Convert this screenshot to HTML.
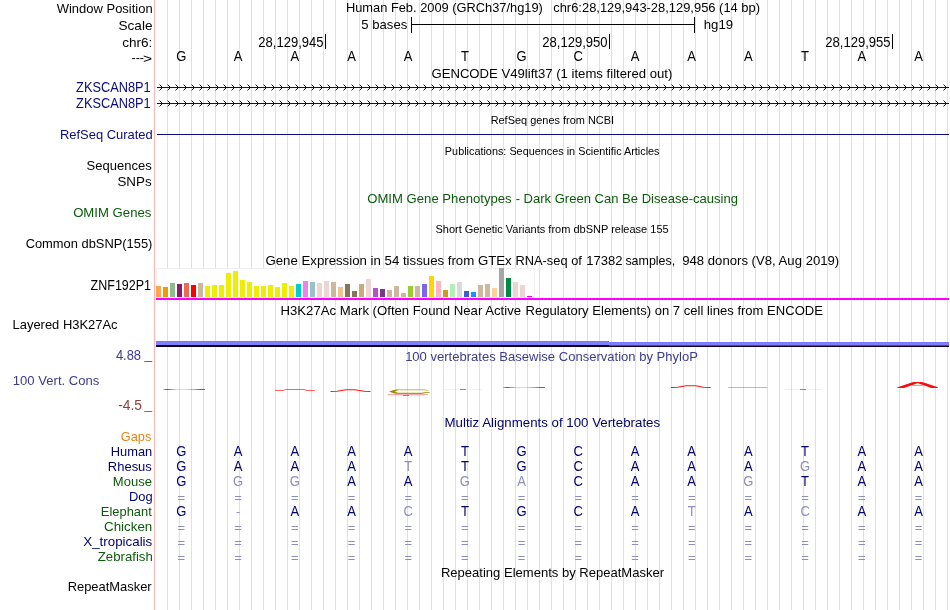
<!DOCTYPE html>
<html><head><meta charset="utf-8"><title>UCSC Genome Browser chr6:28,129,943-28,129,956</title>
<style>
html,body{margin:0;padding:0;background:#fff;}
body{width:950px;height:610px;overflow:hidden;}
svg{display:block;will-change:transform;}
text{font-family:'Liberation Sans', Arial, Helvetica, sans-serif;font-size:13.5px;fill:#000;white-space:pre;}
.s{font-size:11.5px;}
.c{font-size:14px;}
.nv{fill:#0c0c78;}
.gr{fill:#0a5a0a;}
.cb{fill:#3c3c8c;}
.cr{fill:#8c3c3c;}
.mz{fill:#00006e;}
.lt{fill:#8e8eba;}
.or{fill:#e08514;}
</style></head><body>
<svg width="950" height="610" viewBox="0 0 950 610">
<rect x="0" y="0" width="950" height="610" fill="#fff"/>
<g shape-rendering="crispEdges" fill="#dcdcff">
<rect x="167" y="0" width="1" height="610"/>
<rect x="179" y="0" width="1" height="610"/>
<rect x="191" y="0" width="1" height="610"/>
<rect x="203" y="0" width="1" height="610"/>
<rect x="215" y="0" width="1" height="610"/>
<rect x="227" y="0" width="1" height="610"/>
<rect x="239" y="0" width="1" height="610"/>
<rect x="251" y="0" width="1" height="610"/>
<rect x="263" y="0" width="1" height="610"/>
<rect x="275" y="0" width="1" height="610"/>
<rect x="287" y="0" width="1" height="610"/>
<rect x="299" y="0" width="1" height="610"/>
<rect x="311" y="0" width="1" height="610"/>
<rect x="323" y="0" width="1" height="610"/>
<rect x="335" y="0" width="1" height="610"/>
<rect x="347" y="0" width="1" height="610"/>
<rect x="359" y="0" width="1" height="610"/>
<rect x="371" y="0" width="1" height="610"/>
<rect x="383" y="0" width="1" height="610"/>
<rect x="395" y="0" width="1" height="610"/>
<rect x="407" y="0" width="1" height="610"/>
<rect x="419" y="0" width="1" height="610"/>
<rect x="431" y="0" width="1" height="610"/>
<rect x="443" y="0" width="1" height="610"/>
<rect x="455" y="0" width="1" height="610"/>
<rect x="467" y="0" width="1" height="610"/>
<rect x="479" y="0" width="1" height="610"/>
<rect x="491" y="0" width="1" height="610"/>
<rect x="503" y="0" width="1" height="610"/>
<rect x="515" y="0" width="1" height="610"/>
<rect x="527" y="0" width="1" height="610"/>
<rect x="539" y="0" width="1" height="610"/>
<rect x="551" y="0" width="1" height="610"/>
<rect x="563" y="0" width="1" height="610"/>
<rect x="575" y="0" width="1" height="610"/>
<rect x="587" y="0" width="1" height="610"/>
<rect x="599" y="0" width="1" height="610"/>
<rect x="611" y="0" width="1" height="610"/>
<rect x="623" y="0" width="1" height="610"/>
<rect x="635" y="0" width="1" height="610"/>
<rect x="647" y="0" width="1" height="610"/>
<rect x="659" y="0" width="1" height="610"/>
<rect x="671" y="0" width="1" height="610"/>
<rect x="683" y="0" width="1" height="610"/>
<rect x="695" y="0" width="1" height="610"/>
<rect x="707" y="0" width="1" height="610"/>
<rect x="719" y="0" width="1" height="610"/>
<rect x="731" y="0" width="1" height="610"/>
<rect x="743" y="0" width="1" height="610"/>
<rect x="755" y="0" width="1" height="610"/>
<rect x="767" y="0" width="1" height="610"/>
<rect x="779" y="0" width="1" height="610"/>
<rect x="791" y="0" width="1" height="610"/>
<rect x="803" y="0" width="1" height="610"/>
<rect x="815" y="0" width="1" height="610"/>
<rect x="827" y="0" width="1" height="610"/>
<rect x="839" y="0" width="1" height="610"/>
<rect x="851" y="0" width="1" height="610"/>
<rect x="863" y="0" width="1" height="610"/>
<rect x="875" y="0" width="1" height="610"/>
<rect x="887" y="0" width="1" height="610"/>
<rect x="899" y="0" width="1" height="610"/>
<rect x="911" y="0" width="1" height="610"/>
<rect x="923" y="0" width="1" height="610"/>
<rect x="935" y="0" width="1" height="610"/>
<rect x="947" y="0" width="1" height="610"/>
</g>
<rect x="154" y="0" width="1" height="610" fill="#ffb4b4" shape-rendering="crispEdges"/>
<g shape-rendering="crispEdges" fill="#000">
<rect x="411" y="17" width="1" height="16"/><rect x="694" y="17" width="1" height="16"/><rect x="411" y="24" width="284" height="1"/>
<rect x="325" y="34" width="1" height="15"/>
<rect x="609" y="34" width="1" height="15"/>
<rect x="892" y="34" width="1" height="15"/>
</g>
<g shape-rendering="crispEdges" fill="#0c0c78">
<rect x="157" y="87" width="792" height="1"/>
<rect x="157" y="103" width="792" height="1"/>
<rect x="157" y="134" width="792" height="1"/>
</g>
<g shape-rendering="crispEdges" fill="#0c0c78">
<path d="M161 86h1v3h-1zm-1-1h1v1h-1zm0 4h1v1h-1zm9-3h1v3h-1zm-1-1h1v1h-1zm0 4h1v1h-1zm9-3h1v3h-1zm-1-1h1v1h-1zm0 4h1v1h-1zm9-3h1v3h-1zm-1-1h1v1h-1zm0 4h1v1h-1zm9-3h1v3h-1zm-1-1h1v1h-1zm0 4h1v1h-1zm9-3h1v3h-1zm-1-1h1v1h-1zm0 4h1v1h-1zm9-3h1v3h-1zm-1-1h1v1h-1zm0 4h1v1h-1zm9-3h1v3h-1zm-1-1h1v1h-1zm0 4h1v1h-1zm9-3h1v3h-1zm-1-1h1v1h-1zm0 4h1v1h-1zm9-3h1v3h-1zm-1-1h1v1h-1zm0 4h1v1h-1zm9-3h1v3h-1zm-1-1h1v1h-1zm0 4h1v1h-1zm9-3h1v3h-1zm-1-1h1v1h-1zm0 4h1v1h-1zm9-3h1v3h-1zm-1-1h1v1h-1zm0 4h1v1h-1zm9-3h1v3h-1zm-1-1h1v1h-1zm0 4h1v1h-1zm9-3h1v3h-1zm-1-1h1v1h-1zm0 4h1v1h-1zm9-3h1v3h-1zm-1-1h1v1h-1zm0 4h1v1h-1zm9-3h1v3h-1zm-1-1h1v1h-1zm0 4h1v1h-1zm9-3h1v3h-1zm-1-1h1v1h-1zm0 4h1v1h-1zm9-3h1v3h-1zm-1-1h1v1h-1zm0 4h1v1h-1zm9-3h1v3h-1zm-1-1h1v1h-1zm0 4h1v1h-1zm9-3h1v3h-1zm-1-1h1v1h-1zm0 4h1v1h-1zm9-3h1v3h-1zm-1-1h1v1h-1zm0 4h1v1h-1zm9-3h1v3h-1zm-1-1h1v1h-1zm0 4h1v1h-1zm9-3h1v3h-1zm-1-1h1v1h-1zm0 4h1v1h-1zm9-3h1v3h-1zm-1-1h1v1h-1zm0 4h1v1h-1zm9-3h1v3h-1zm-1-1h1v1h-1zm0 4h1v1h-1zm9-3h1v3h-1zm-1-1h1v1h-1zm0 4h1v1h-1zm9-3h1v3h-1zm-1-1h1v1h-1zm0 4h1v1h-1zm9-3h1v3h-1zm-1-1h1v1h-1zm0 4h1v1h-1zm9-3h1v3h-1zm-1-1h1v1h-1zm0 4h1v1h-1zm9-3h1v3h-1zm-1-1h1v1h-1zm0 4h1v1h-1zm9-3h1v3h-1zm-1-1h1v1h-1zm0 4h1v1h-1zm9-3h1v3h-1zm-1-1h1v1h-1zm0 4h1v1h-1zm9-3h1v3h-1zm-1-1h1v1h-1zm0 4h1v1h-1zm9-3h1v3h-1zm-1-1h1v1h-1zm0 4h1v1h-1zm9-3h1v3h-1zm-1-1h1v1h-1zm0 4h1v1h-1zm9-3h1v3h-1zm-1-1h1v1h-1zm0 4h1v1h-1zm9-3h1v3h-1zm-1-1h1v1h-1zm0 4h1v1h-1zm9-3h1v3h-1zm-1-1h1v1h-1zm0 4h1v1h-1zm9-3h1v3h-1zm-1-1h1v1h-1zm0 4h1v1h-1zm9-3h1v3h-1zm-1-1h1v1h-1zm0 4h1v1h-1zm9-3h1v3h-1zm-1-1h1v1h-1zm0 4h1v1h-1zm9-3h1v3h-1zm-1-1h1v1h-1zm0 4h1v1h-1zm9-3h1v3h-1zm-1-1h1v1h-1zm0 4h1v1h-1zm9-3h1v3h-1zm-1-1h1v1h-1zm0 4h1v1h-1zm9-3h1v3h-1zm-1-1h1v1h-1zm0 4h1v1h-1zm9-3h1v3h-1zm-1-1h1v1h-1zm0 4h1v1h-1zm9-3h1v3h-1zm-1-1h1v1h-1zm0 4h1v1h-1zm9-3h1v3h-1zm-1-1h1v1h-1zm0 4h1v1h-1zm9-3h1v3h-1zm-1-1h1v1h-1zm0 4h1v1h-1zm9-3h1v3h-1zm-1-1h1v1h-1zm0 4h1v1h-1zm9-3h1v3h-1zm-1-1h1v1h-1zm0 4h1v1h-1zm9-3h1v3h-1zm-1-1h1v1h-1zm0 4h1v1h-1zm9-3h1v3h-1zm-1-1h1v1h-1zm0 4h1v1h-1zm9-3h1v3h-1zm-1-1h1v1h-1zm0 4h1v1h-1zm9-3h1v3h-1zm-1-1h1v1h-1zm0 4h1v1h-1zm9-3h1v3h-1zm-1-1h1v1h-1zm0 4h1v1h-1zm9-3h1v3h-1zm-1-1h1v1h-1zm0 4h1v1h-1zm9-3h1v3h-1zm-1-1h1v1h-1zm0 4h1v1h-1zm9-3h1v3h-1zm-1-1h1v1h-1zm0 4h1v1h-1zm9-3h1v3h-1zm-1-1h1v1h-1zm0 4h1v1h-1zm9-3h1v3h-1zm-1-1h1v1h-1zm0 4h1v1h-1zm9-3h1v3h-1zm-1-1h1v1h-1zm0 4h1v1h-1zm9-3h1v3h-1zm-1-1h1v1h-1zm0 4h1v1h-1zm9-3h1v3h-1zm-1-1h1v1h-1zm0 4h1v1h-1zm9-3h1v3h-1zm-1-1h1v1h-1zm0 4h1v1h-1zm9-3h1v3h-1zm-1-1h1v1h-1zm0 4h1v1h-1zm9-3h1v3h-1zm-1-1h1v1h-1zm0 4h1v1h-1zm9-3h1v3h-1zm-1-1h1v1h-1zm0 4h1v1h-1zm9-3h1v3h-1zm-1-1h1v1h-1zm0 4h1v1h-1zm9-3h1v3h-1zm-1-1h1v1h-1zm0 4h1v1h-1zm9-3h1v3h-1zm-1-1h1v1h-1zm0 4h1v1h-1zm9-3h1v3h-1zm-1-1h1v1h-1zm0 4h1v1h-1zm9-3h1v3h-1zm-1-1h1v1h-1zm0 4h1v1h-1zm9-3h1v3h-1zm-1-1h1v1h-1zm0 4h1v1h-1zm9-3h1v3h-1zm-1-1h1v1h-1zm0 4h1v1h-1zm9-3h1v3h-1zm-1-1h1v1h-1zm0 4h1v1h-1zm9-3h1v3h-1zm-1-1h1v1h-1zm0 4h1v1h-1zm9-3h1v3h-1zm-1-1h1v1h-1zm0 4h1v1h-1zm9-3h1v3h-1zm-1-1h1v1h-1zm0 4h1v1h-1zm9-3h1v3h-1zm-1-1h1v1h-1zm0 4h1v1h-1zm9-3h1v3h-1zm-1-1h1v1h-1zm0 4h1v1h-1zm9-3h1v3h-1zm-1-1h1v1h-1zm0 4h1v1h-1zm9-3h1v3h-1zm-1-1h1v1h-1zm0 4h1v1h-1zm9-3h1v3h-1zm-1-1h1v1h-1zm0 4h1v1h-1zm9-3h1v3h-1zm-1-1h1v1h-1zm0 4h1v1h-1zm9-3h1v3h-1zm-1-1h1v1h-1zm0 4h1v1h-1zm9-3h1v3h-1zm-1-1h1v1h-1zm0 4h1v1h-1zm9-3h1v3h-1zm-1-1h1v1h-1zm0 4h1v1h-1zm9-3h1v3h-1zm-1-1h1v1h-1zm0 4h1v1h-1zm9-3h1v3h-1zm-1-1h1v1h-1zm0 4h1v1h-1zm9-3h1v3h-1zm-1-1h1v1h-1zm0 4h1v1h-1zm9-3h1v3h-1zm-1-1h1v1h-1zm0 4h1v1h-1zm9-3h1v3h-1zm-1-1h1v1h-1zm0 4h1v1h-1zm9-3h1v3h-1zm-1-1h1v1h-1zm0 4h1v1h-1zm9-3h1v3h-1zm-1-1h1v1h-1zm0 4h1v1h-1zm9-3h1v3h-1zm-1-1h1v1h-1zm0 4h1v1h-1zm9-3h1v3h-1zm-1-1h1v1h-1zm0 4h1v1h-1zm9-3h1v3h-1zm-1-1h1v1h-1zm0 4h1v1h-1zm9-3"/>
<path opacity=".45" d="M159 84h1v1h-1zm0 6h1v1h-1zm8-6h1v1h-1zm0 6h1v1h-1zm8-6h1v1h-1zm0 6h1v1h-1zm8-6h1v1h-1zm0 6h1v1h-1zm8-6h1v1h-1zm0 6h1v1h-1zm8-6h1v1h-1zm0 6h1v1h-1zm8-6h1v1h-1zm0 6h1v1h-1zm8-6h1v1h-1zm0 6h1v1h-1zm8-6h1v1h-1zm0 6h1v1h-1zm8-6h1v1h-1zm0 6h1v1h-1zm8-6h1v1h-1zm0 6h1v1h-1zm8-6h1v1h-1zm0 6h1v1h-1zm8-6h1v1h-1zm0 6h1v1h-1zm8-6h1v1h-1zm0 6h1v1h-1zm8-6h1v1h-1zm0 6h1v1h-1zm8-6h1v1h-1zm0 6h1v1h-1zm8-6h1v1h-1zm0 6h1v1h-1zm8-6h1v1h-1zm0 6h1v1h-1zm8-6h1v1h-1zm0 6h1v1h-1zm8-6h1v1h-1zm0 6h1v1h-1zm8-6h1v1h-1zm0 6h1v1h-1zm8-6h1v1h-1zm0 6h1v1h-1zm8-6h1v1h-1zm0 6h1v1h-1zm8-6h1v1h-1zm0 6h1v1h-1zm8-6h1v1h-1zm0 6h1v1h-1zm8-6h1v1h-1zm0 6h1v1h-1zm8-6h1v1h-1zm0 6h1v1h-1zm8-6h1v1h-1zm0 6h1v1h-1zm8-6h1v1h-1zm0 6h1v1h-1zm8-6h1v1h-1zm0 6h1v1h-1zm8-6h1v1h-1zm0 6h1v1h-1zm8-6h1v1h-1zm0 6h1v1h-1zm8-6h1v1h-1zm0 6h1v1h-1zm8-6h1v1h-1zm0 6h1v1h-1zm8-6h1v1h-1zm0 6h1v1h-1zm8-6h1v1h-1zm0 6h1v1h-1zm8-6h1v1h-1zm0 6h1v1h-1zm8-6h1v1h-1zm0 6h1v1h-1zm8-6h1v1h-1zm0 6h1v1h-1zm8-6h1v1h-1zm0 6h1v1h-1zm8-6h1v1h-1zm0 6h1v1h-1zm8-6h1v1h-1zm0 6h1v1h-1zm8-6h1v1h-1zm0 6h1v1h-1zm8-6h1v1h-1zm0 6h1v1h-1zm8-6h1v1h-1zm0 6h1v1h-1zm8-6h1v1h-1zm0 6h1v1h-1zm8-6h1v1h-1zm0 6h1v1h-1zm8-6h1v1h-1zm0 6h1v1h-1zm8-6h1v1h-1zm0 6h1v1h-1zm8-6h1v1h-1zm0 6h1v1h-1zm8-6h1v1h-1zm0 6h1v1h-1zm8-6h1v1h-1zm0 6h1v1h-1zm8-6h1v1h-1zm0 6h1v1h-1zm8-6h1v1h-1zm0 6h1v1h-1zm8-6h1v1h-1zm0 6h1v1h-1zm8-6h1v1h-1zm0 6h1v1h-1zm8-6h1v1h-1zm0 6h1v1h-1zm8-6h1v1h-1zm0 6h1v1h-1zm8-6h1v1h-1zm0 6h1v1h-1zm8-6h1v1h-1zm0 6h1v1h-1zm8-6h1v1h-1zm0 6h1v1h-1zm8-6h1v1h-1zm0 6h1v1h-1zm8-6h1v1h-1zm0 6h1v1h-1zm8-6h1v1h-1zm0 6h1v1h-1zm8-6h1v1h-1zm0 6h1v1h-1zm8-6h1v1h-1zm0 6h1v1h-1zm8-6h1v1h-1zm0 6h1v1h-1zm8-6h1v1h-1zm0 6h1v1h-1zm8-6h1v1h-1zm0 6h1v1h-1zm8-6h1v1h-1zm0 6h1v1h-1zm8-6h1v1h-1zm0 6h1v1h-1zm8-6h1v1h-1zm0 6h1v1h-1zm8-6h1v1h-1zm0 6h1v1h-1zm8-6h1v1h-1zm0 6h1v1h-1zm8-6h1v1h-1zm0 6h1v1h-1zm8-6h1v1h-1zm0 6h1v1h-1zm8-6h1v1h-1zm0 6h1v1h-1zm8-6h1v1h-1zm0 6h1v1h-1zm8-6h1v1h-1zm0 6h1v1h-1zm8-6h1v1h-1zm0 6h1v1h-1zm8-6h1v1h-1zm0 6h1v1h-1zm8-6h1v1h-1zm0 6h1v1h-1zm8-6h1v1h-1zm0 6h1v1h-1zm8-6h1v1h-1zm0 6h1v1h-1zm8-6h1v1h-1zm0 6h1v1h-1zm8-6h1v1h-1zm0 6h1v1h-1zm8-6h1v1h-1zm0 6h1v1h-1zm8-6h1v1h-1zm0 6h1v1h-1zm8-6h1v1h-1zm0 6h1v1h-1zm8-6h1v1h-1zm0 6h1v1h-1zm8-6h1v1h-1zm0 6h1v1h-1zm8-6h1v1h-1zm0 6h1v1h-1zm8-6h1v1h-1zm0 6h1v1h-1zm8-6h1v1h-1zm0 6h1v1h-1zm8-6h1v1h-1zm0 6h1v1h-1zm8-6h1v1h-1zm0 6h1v1h-1zm8-6h1v1h-1zm0 6h1v1h-1zm8-6h1v1h-1zm0 6h1v1h-1zm8-6h1v1h-1zm0 6h1v1h-1zm8-6"/>
<path d="M161 102h1v3h-1zm-1-1h1v1h-1zm0 4h1v1h-1zm9-3h1v3h-1zm-1-1h1v1h-1zm0 4h1v1h-1zm9-3h1v3h-1zm-1-1h1v1h-1zm0 4h1v1h-1zm9-3h1v3h-1zm-1-1h1v1h-1zm0 4h1v1h-1zm9-3h1v3h-1zm-1-1h1v1h-1zm0 4h1v1h-1zm9-3h1v3h-1zm-1-1h1v1h-1zm0 4h1v1h-1zm9-3h1v3h-1zm-1-1h1v1h-1zm0 4h1v1h-1zm9-3h1v3h-1zm-1-1h1v1h-1zm0 4h1v1h-1zm9-3h1v3h-1zm-1-1h1v1h-1zm0 4h1v1h-1zm9-3h1v3h-1zm-1-1h1v1h-1zm0 4h1v1h-1zm9-3h1v3h-1zm-1-1h1v1h-1zm0 4h1v1h-1zm9-3h1v3h-1zm-1-1h1v1h-1zm0 4h1v1h-1zm9-3h1v3h-1zm-1-1h1v1h-1zm0 4h1v1h-1zm9-3h1v3h-1zm-1-1h1v1h-1zm0 4h1v1h-1zm9-3h1v3h-1zm-1-1h1v1h-1zm0 4h1v1h-1zm9-3h1v3h-1zm-1-1h1v1h-1zm0 4h1v1h-1zm9-3h1v3h-1zm-1-1h1v1h-1zm0 4h1v1h-1zm9-3h1v3h-1zm-1-1h1v1h-1zm0 4h1v1h-1zm9-3h1v3h-1zm-1-1h1v1h-1zm0 4h1v1h-1zm9-3h1v3h-1zm-1-1h1v1h-1zm0 4h1v1h-1zm9-3h1v3h-1zm-1-1h1v1h-1zm0 4h1v1h-1zm9-3h1v3h-1zm-1-1h1v1h-1zm0 4h1v1h-1zm9-3h1v3h-1zm-1-1h1v1h-1zm0 4h1v1h-1zm9-3h1v3h-1zm-1-1h1v1h-1zm0 4h1v1h-1zm9-3h1v3h-1zm-1-1h1v1h-1zm0 4h1v1h-1zm9-3h1v3h-1zm-1-1h1v1h-1zm0 4h1v1h-1zm9-3h1v3h-1zm-1-1h1v1h-1zm0 4h1v1h-1zm9-3h1v3h-1zm-1-1h1v1h-1zm0 4h1v1h-1zm9-3h1v3h-1zm-1-1h1v1h-1zm0 4h1v1h-1zm9-3h1v3h-1zm-1-1h1v1h-1zm0 4h1v1h-1zm9-3h1v3h-1zm-1-1h1v1h-1zm0 4h1v1h-1zm9-3h1v3h-1zm-1-1h1v1h-1zm0 4h1v1h-1zm9-3h1v3h-1zm-1-1h1v1h-1zm0 4h1v1h-1zm9-3h1v3h-1zm-1-1h1v1h-1zm0 4h1v1h-1zm9-3h1v3h-1zm-1-1h1v1h-1zm0 4h1v1h-1zm9-3h1v3h-1zm-1-1h1v1h-1zm0 4h1v1h-1zm9-3h1v3h-1zm-1-1h1v1h-1zm0 4h1v1h-1zm9-3h1v3h-1zm-1-1h1v1h-1zm0 4h1v1h-1zm9-3h1v3h-1zm-1-1h1v1h-1zm0 4h1v1h-1zm9-3h1v3h-1zm-1-1h1v1h-1zm0 4h1v1h-1zm9-3h1v3h-1zm-1-1h1v1h-1zm0 4h1v1h-1zm9-3h1v3h-1zm-1-1h1v1h-1zm0 4h1v1h-1zm9-3h1v3h-1zm-1-1h1v1h-1zm0 4h1v1h-1zm9-3h1v3h-1zm-1-1h1v1h-1zm0 4h1v1h-1zm9-3h1v3h-1zm-1-1h1v1h-1zm0 4h1v1h-1zm9-3h1v3h-1zm-1-1h1v1h-1zm0 4h1v1h-1zm9-3h1v3h-1zm-1-1h1v1h-1zm0 4h1v1h-1zm9-3h1v3h-1zm-1-1h1v1h-1zm0 4h1v1h-1zm9-3h1v3h-1zm-1-1h1v1h-1zm0 4h1v1h-1zm9-3h1v3h-1zm-1-1h1v1h-1zm0 4h1v1h-1zm9-3h1v3h-1zm-1-1h1v1h-1zm0 4h1v1h-1zm9-3h1v3h-1zm-1-1h1v1h-1zm0 4h1v1h-1zm9-3h1v3h-1zm-1-1h1v1h-1zm0 4h1v1h-1zm9-3h1v3h-1zm-1-1h1v1h-1zm0 4h1v1h-1zm9-3h1v3h-1zm-1-1h1v1h-1zm0 4h1v1h-1zm9-3h1v3h-1zm-1-1h1v1h-1zm0 4h1v1h-1zm9-3h1v3h-1zm-1-1h1v1h-1zm0 4h1v1h-1zm9-3h1v3h-1zm-1-1h1v1h-1zm0 4h1v1h-1zm9-3h1v3h-1zm-1-1h1v1h-1zm0 4h1v1h-1zm9-3h1v3h-1zm-1-1h1v1h-1zm0 4h1v1h-1zm9-3h1v3h-1zm-1-1h1v1h-1zm0 4h1v1h-1zm9-3h1v3h-1zm-1-1h1v1h-1zm0 4h1v1h-1zm9-3h1v3h-1zm-1-1h1v1h-1zm0 4h1v1h-1zm9-3h1v3h-1zm-1-1h1v1h-1zm0 4h1v1h-1zm9-3h1v3h-1zm-1-1h1v1h-1zm0 4h1v1h-1zm9-3h1v3h-1zm-1-1h1v1h-1zm0 4h1v1h-1zm9-3h1v3h-1zm-1-1h1v1h-1zm0 4h1v1h-1zm9-3h1v3h-1zm-1-1h1v1h-1zm0 4h1v1h-1zm9-3h1v3h-1zm-1-1h1v1h-1zm0 4h1v1h-1zm9-3h1v3h-1zm-1-1h1v1h-1zm0 4h1v1h-1zm9-3h1v3h-1zm-1-1h1v1h-1zm0 4h1v1h-1zm9-3h1v3h-1zm-1-1h1v1h-1zm0 4h1v1h-1zm9-3h1v3h-1zm-1-1h1v1h-1zm0 4h1v1h-1zm9-3h1v3h-1zm-1-1h1v1h-1zm0 4h1v1h-1zm9-3h1v3h-1zm-1-1h1v1h-1zm0 4h1v1h-1zm9-3h1v3h-1zm-1-1h1v1h-1zm0 4h1v1h-1zm9-3h1v3h-1zm-1-1h1v1h-1zm0 4h1v1h-1zm9-3h1v3h-1zm-1-1h1v1h-1zm0 4h1v1h-1zm9-3h1v3h-1zm-1-1h1v1h-1zm0 4h1v1h-1zm9-3h1v3h-1zm-1-1h1v1h-1zm0 4h1v1h-1zm9-3h1v3h-1zm-1-1h1v1h-1zm0 4h1v1h-1zm9-3h1v3h-1zm-1-1h1v1h-1zm0 4h1v1h-1zm9-3h1v3h-1zm-1-1h1v1h-1zm0 4h1v1h-1zm9-3h1v3h-1zm-1-1h1v1h-1zm0 4h1v1h-1zm9-3h1v3h-1zm-1-1h1v1h-1zm0 4h1v1h-1zm9-3h1v3h-1zm-1-1h1v1h-1zm0 4h1v1h-1zm9-3h1v3h-1zm-1-1h1v1h-1zm0 4h1v1h-1zm9-3h1v3h-1zm-1-1h1v1h-1zm0 4h1v1h-1zm9-3h1v3h-1zm-1-1h1v1h-1zm0 4h1v1h-1zm9-3h1v3h-1zm-1-1h1v1h-1zm0 4h1v1h-1zm9-3h1v3h-1zm-1-1h1v1h-1zm0 4h1v1h-1zm9-3h1v3h-1zm-1-1h1v1h-1zm0 4h1v1h-1zm9-3h1v3h-1zm-1-1h1v1h-1zm0 4h1v1h-1zm9-3h1v3h-1zm-1-1h1v1h-1zm0 4h1v1h-1zm9-3h1v3h-1zm-1-1h1v1h-1zm0 4h1v1h-1zm9-3h1v3h-1zm-1-1h1v1h-1zm0 4h1v1h-1zm9-3h1v3h-1zm-1-1h1v1h-1zm0 4h1v1h-1zm9-3h1v3h-1zm-1-1h1v1h-1zm0 4h1v1h-1zm9-3h1v3h-1zm-1-1h1v1h-1zm0 4h1v1h-1zm9-3"/>
<path opacity=".45" d="M159 100h1v1h-1zm0 6h1v1h-1zm8-6h1v1h-1zm0 6h1v1h-1zm8-6h1v1h-1zm0 6h1v1h-1zm8-6h1v1h-1zm0 6h1v1h-1zm8-6h1v1h-1zm0 6h1v1h-1zm8-6h1v1h-1zm0 6h1v1h-1zm8-6h1v1h-1zm0 6h1v1h-1zm8-6h1v1h-1zm0 6h1v1h-1zm8-6h1v1h-1zm0 6h1v1h-1zm8-6h1v1h-1zm0 6h1v1h-1zm8-6h1v1h-1zm0 6h1v1h-1zm8-6h1v1h-1zm0 6h1v1h-1zm8-6h1v1h-1zm0 6h1v1h-1zm8-6h1v1h-1zm0 6h1v1h-1zm8-6h1v1h-1zm0 6h1v1h-1zm8-6h1v1h-1zm0 6h1v1h-1zm8-6h1v1h-1zm0 6h1v1h-1zm8-6h1v1h-1zm0 6h1v1h-1zm8-6h1v1h-1zm0 6h1v1h-1zm8-6h1v1h-1zm0 6h1v1h-1zm8-6h1v1h-1zm0 6h1v1h-1zm8-6h1v1h-1zm0 6h1v1h-1zm8-6h1v1h-1zm0 6h1v1h-1zm8-6h1v1h-1zm0 6h1v1h-1zm8-6h1v1h-1zm0 6h1v1h-1zm8-6h1v1h-1zm0 6h1v1h-1zm8-6h1v1h-1zm0 6h1v1h-1zm8-6h1v1h-1zm0 6h1v1h-1zm8-6h1v1h-1zm0 6h1v1h-1zm8-6h1v1h-1zm0 6h1v1h-1zm8-6h1v1h-1zm0 6h1v1h-1zm8-6h1v1h-1zm0 6h1v1h-1zm8-6h1v1h-1zm0 6h1v1h-1zm8-6h1v1h-1zm0 6h1v1h-1zm8-6h1v1h-1zm0 6h1v1h-1zm8-6h1v1h-1zm0 6h1v1h-1zm8-6h1v1h-1zm0 6h1v1h-1zm8-6h1v1h-1zm0 6h1v1h-1zm8-6h1v1h-1zm0 6h1v1h-1zm8-6h1v1h-1zm0 6h1v1h-1zm8-6h1v1h-1zm0 6h1v1h-1zm8-6h1v1h-1zm0 6h1v1h-1zm8-6h1v1h-1zm0 6h1v1h-1zm8-6h1v1h-1zm0 6h1v1h-1zm8-6h1v1h-1zm0 6h1v1h-1zm8-6h1v1h-1zm0 6h1v1h-1zm8-6h1v1h-1zm0 6h1v1h-1zm8-6h1v1h-1zm0 6h1v1h-1zm8-6h1v1h-1zm0 6h1v1h-1zm8-6h1v1h-1zm0 6h1v1h-1zm8-6h1v1h-1zm0 6h1v1h-1zm8-6h1v1h-1zm0 6h1v1h-1zm8-6h1v1h-1zm0 6h1v1h-1zm8-6h1v1h-1zm0 6h1v1h-1zm8-6h1v1h-1zm0 6h1v1h-1zm8-6h1v1h-1zm0 6h1v1h-1zm8-6h1v1h-1zm0 6h1v1h-1zm8-6h1v1h-1zm0 6h1v1h-1zm8-6h1v1h-1zm0 6h1v1h-1zm8-6h1v1h-1zm0 6h1v1h-1zm8-6h1v1h-1zm0 6h1v1h-1zm8-6h1v1h-1zm0 6h1v1h-1zm8-6h1v1h-1zm0 6h1v1h-1zm8-6h1v1h-1zm0 6h1v1h-1zm8-6h1v1h-1zm0 6h1v1h-1zm8-6h1v1h-1zm0 6h1v1h-1zm8-6h1v1h-1zm0 6h1v1h-1zm8-6h1v1h-1zm0 6h1v1h-1zm8-6h1v1h-1zm0 6h1v1h-1zm8-6h1v1h-1zm0 6h1v1h-1zm8-6h1v1h-1zm0 6h1v1h-1zm8-6h1v1h-1zm0 6h1v1h-1zm8-6h1v1h-1zm0 6h1v1h-1zm8-6h1v1h-1zm0 6h1v1h-1zm8-6h1v1h-1zm0 6h1v1h-1zm8-6h1v1h-1zm0 6h1v1h-1zm8-6h1v1h-1zm0 6h1v1h-1zm8-6h1v1h-1zm0 6h1v1h-1zm8-6h1v1h-1zm0 6h1v1h-1zm8-6h1v1h-1zm0 6h1v1h-1zm8-6h1v1h-1zm0 6h1v1h-1zm8-6h1v1h-1zm0 6h1v1h-1zm8-6h1v1h-1zm0 6h1v1h-1zm8-6h1v1h-1zm0 6h1v1h-1zm8-6h1v1h-1zm0 6h1v1h-1zm8-6h1v1h-1zm0 6h1v1h-1zm8-6h1v1h-1zm0 6h1v1h-1zm8-6h1v1h-1zm0 6h1v1h-1zm8-6h1v1h-1zm0 6h1v1h-1zm8-6h1v1h-1zm0 6h1v1h-1zm8-6h1v1h-1zm0 6h1v1h-1zm8-6h1v1h-1zm0 6h1v1h-1zm8-6h1v1h-1zm0 6h1v1h-1zm8-6h1v1h-1zm0 6h1v1h-1zm8-6h1v1h-1zm0 6h1v1h-1zm8-6h1v1h-1zm0 6h1v1h-1zm8-6h1v1h-1zm0 6h1v1h-1zm8-6h1v1h-1zm0 6h1v1h-1zm8-6h1v1h-1zm0 6h1v1h-1zm8-6"/>
</g>
<g shape-rendering="crispEdges">
<rect x="156" y="268" width="379" height="30" fill="#fff"/>
<rect x="156" y="268" width="379" height="1" fill="#efefef"/><rect x="156" y="268" width="1" height="30" fill="#efefef"/><rect x="534" y="268" width="1" height="30" fill="#efefef"/>
<rect x="156" y="297" width="379" height="1" fill="#e4ede4"/>
<rect x="156" y="286" width="5" height="11" fill="#FFA54F"/>
<rect x="163" y="287" width="5" height="10" fill="#EE9A00"/>
<rect x="170" y="283" width="5" height="14" fill="#8FBC8F"/>
<rect x="177" y="284" width="5" height="13" fill="#8B1C62"/>
<rect x="184" y="283" width="5" height="14" fill="#EE6A50"/>
<rect x="191" y="285" width="5" height="12" fill="#FF0000"/>
<rect x="198" y="283" width="5" height="14" fill="#CDB79E"/>
<rect x="205" y="286" width="5" height="11" fill="#EEEE00"/>
<rect x="212" y="285" width="5" height="12" fill="#EEEE00"/>
<rect x="219" y="285" width="5" height="12" fill="#EEEE00"/>
<rect x="226" y="273" width="5" height="24" fill="#EEEE00"/>
<rect x="233" y="271" width="5" height="26" fill="#EEEE00"/>
<rect x="240" y="280" width="5" height="17" fill="#EEEE00"/>
<rect x="247" y="282" width="5" height="15" fill="#EEEE00"/>
<rect x="254" y="286" width="5" height="11" fill="#EEEE00"/>
<rect x="261" y="286" width="5" height="11" fill="#EEEE00"/>
<rect x="268" y="285" width="5" height="12" fill="#EEEE00"/>
<rect x="275" y="287" width="5" height="10" fill="#EEEE00"/>
<rect x="282" y="283" width="5" height="14" fill="#EEEE00"/>
<rect x="289" y="286" width="5" height="11" fill="#EEEE00"/>
<rect x="296" y="284" width="5" height="13" fill="#00CDCD"/>
<rect x="303" y="281" width="5" height="16" fill="#EE82EE"/>
<rect x="310" y="282" width="5" height="15" fill="#9AC0CD"/>
<rect x="317" y="283" width="5" height="14" fill="#EED5D2"/>
<rect x="324" y="281" width="5" height="16" fill="#EED5D2"/>
<rect x="331" y="282" width="5" height="15" fill="#CDB79E"/>
<rect x="338" y="287" width="5" height="10" fill="#EEC591"/>
<rect x="345" y="284" width="5" height="13" fill="#8B7355"/>
<rect x="352" y="291" width="5" height="6" fill="#8B7355"/>
<rect x="359" y="284" width="5" height="13" fill="#CDAA7D"/>
<rect x="366" y="279" width="5" height="18" fill="#EED5D2"/>
<rect x="373" y="288" width="5" height="9" fill="#B452CD"/>
<rect x="380" y="289" width="5" height="8" fill="#7A378B"/>
<rect x="387" y="290" width="5" height="7" fill="#CDB79E"/>
<rect x="394" y="286" width="5" height="11" fill="#CDB79E"/>
<rect x="401" y="293" width="5" height="4" fill="#CDB79E"/>
<rect x="408" y="286" width="5" height="11" fill="#9ACD32"/>
<rect x="415" y="286" width="5" height="11" fill="#CDB79E"/>
<rect x="422" y="284" width="5" height="13" fill="#7A67EE"/>
<rect x="429" y="276" width="5" height="21" fill="#FFD700"/>
<rect x="436" y="281" width="5" height="16" fill="#FFB6C1"/>
<rect x="443" y="290" width="5" height="7" fill="#CD9B1D"/>
<rect x="450" y="284" width="5" height="13" fill="#B4EEB4"/>
<rect x="457" y="282" width="5" height="15" fill="#D9D9D9"/>
<rect x="464" y="291" width="5" height="6" fill="#3A5FCD"/>
<rect x="471" y="292" width="5" height="5" fill="#1E90FF"/>
<rect x="478" y="285" width="5" height="12" fill="#CDB79E"/>
<rect x="485" y="284" width="5" height="13" fill="#CDB79E"/>
<rect x="492" y="288" width="5" height="9" fill="#FFD39B"/>
<rect x="499" y="268" width="5" height="29" fill="#A6A6A6"/>
<rect x="506" y="278" width="5" height="19" fill="#008B45"/>
<rect x="513" y="282" width="5" height="15" fill="#EED5D2"/>
<rect x="520" y="285" width="5" height="12" fill="#EED5D2"/>
<rect x="527" y="296" width="5" height="1" fill="#FF00FF"/>
<rect x="156" y="298" width="793" height="2" fill="#ff00ff"/>
</g>
<g shape-rendering="crispEdges">
<rect x="156" y="341" width="453" height="4" fill="#8080ff"/>
<rect x="156" y="341" width="453" height="1" fill="#7878fa"/>
<rect x="609" y="342" width="340" height="3" fill="#8080ff"/>
<rect x="609" y="342" width="340" height="1" fill="#7878fa"/>
<rect x="156" y="345" width="453" height="2" fill="#14001e"/>
<rect x="609" y="345" width="340" height="1" fill="#8c3a3c"/>
<rect x="609" y="346" width="340" height="1" fill="#14001e"/>
</g>
<defs>
<linearGradient id="cg" x1="0" x2="1" y1="0" y2="0">
<stop offset="0" stop-color="#2020ff" stop-opacity=".25"/><stop offset=".09" stop-color="#2020ff" stop-opacity=".85"/><stop offset=".2" stop-color="#2020ff" stop-opacity=".5"/><stop offset=".32" stop-color="#2020ff" stop-opacity=".2"/><stop offset=".55" stop-color="#2020ff" stop-opacity=".18"/><stop offset=".75" stop-color="#2020ff" stop-opacity=".45"/><stop offset=".9" stop-color="#2020ff" stop-opacity=".8"/><stop offset="1" stop-color="#2020ff" stop-opacity=".7"/>
</linearGradient>
</defs>
<g id="logos">
<rect x="163" y="389" width="42" height="1" fill="url(#cg)"/>
<rect x="503" y="387" width="42" height="1" fill="url(#cg)"/>
<g fill="none" stroke="#ff1414" stroke-linejoin="round" stroke-linecap="round">
<path d="M275.5 390.5L283 390.5L286 389.5L304 389.5L307 390.5L314.5 390.5" stroke-width=".9" opacity=".75"/>
<path d="M331 391.5L337 391.3L346 389.7L355 389.7L364 391.3L370 391.5" stroke-width="1.15"/>
<path d="M671.3 387.5L678 387.2L686 385.7L696 385.7L703 387.2L710.3 387.5" stroke-width="1.15"/>
<path d="M728.5 387.5L767 387.5" stroke-width="1" opacity=".42"/>
<path d="M912.5 385.4L923 385.4" stroke-width=".7" opacity=".75"/>
</g>
<path d="M897.2 387.9L904 387.9L913.8 384.4L917.7 383.1L921.6 384.4L931.4 387.9L938.2 387.9L937.8 387.3L923 382.2L920.8 381.9L914.6 381.9L912.4 382.2L897.6 387.3Z" fill="#ff0a0a"/>
<g>
<path d="M396 390.2L427 390.2L424 391.9L422 392.8L396.5 392.8L394.6 391.4Z" fill="#fff" opacity=".55"/>
<path d="M389 391.4L393.5 389.9L397.5 389.2L397.5 390.25L395 391.4L397.5 392.75L397.5 393.95L393.5 393.3Z" fill="#9a9200"/>
<path d="M397 389.2L424.5 389.2L428.9 390.2L428.6 390.8L423.5 390.2L397 390.2Z" fill="#a39b08" opacity=".7"/>
<path d="M397 392.8L422 392.8L424 392.15L429.7 391.95L429.7 392.75L425 393.35L422 393.95L397 393.95Z" fill="#9a9200" opacity=".9"/>
<rect x="388" y="394" width="40" height="1" fill="#ff2020" opacity=".38"/>
<rect x="387" y="395" width="37" height="1" fill="#00ff00" opacity=".15"/>
<rect x="403" y="395" width="6" height="1" fill="#00f000"/>
</g>
<rect x="444" y="389" width="38" height="1" fill="#00ff00" opacity=".13"/>
<rect x="460" y="389" width="6" height="1" fill="#00f000"/>
<rect x="784.5" y="389" width="37" height="1" fill="#00ff00" opacity=".13"/>
<rect x="800" y="389" width="6" height="1" fill="#00f000"/>
</g>

<text x="56.70" y="13" textLength="95.97" lengthAdjust="spacingAndGlyphs">Window Position</text>
<text x="118.49" y="30" textLength="33.99" lengthAdjust="spacingAndGlyphs">Scale</text>
<text x="122.20" y="47" textLength="30.12" lengthAdjust="spacingAndGlyphs">chr6:</text>
<text x="131.47" y="62" textLength="12.60" lengthAdjust="spacingAndGlyphs">---</text>
<text x="142.95" y="63" textLength="9.07" lengthAdjust="spacingAndGlyphs">&gt;</text>
<text x="345.95" y="12" textLength="207.62" lengthAdjust="spacingAndGlyphs">Human Feb. 2009 (GRCh37/hg19)   </text>
<text x="553.24" y="12" textLength="206.78" lengthAdjust="spacingAndGlyphs">chr6:28,129,943-28,129,956 (14 bp)</text>
<text x="361.33" y="29" textLength="45.96" lengthAdjust="spacingAndGlyphs">5 bases</text>
<text x="703.72" y="29" textLength="29.40" lengthAdjust="spacingAndGlyphs">hg19</text>
<text x="258.37" y="47" class="c" textLength="65.23" lengthAdjust="spacingAndGlyphs">28,129,945</text>
<text x="542.27" y="47" class="c" textLength="65.34" lengthAdjust="spacingAndGlyphs">28,129,950</text>
<text x="825.27" y="47" class="c" textLength="65.34" lengthAdjust="spacingAndGlyphs">28,129,955</text>
<text x="431.43" y="78" textLength="240.85" lengthAdjust="spacingAndGlyphs">GENCODE V49lift37 (1 items filtered out)</text>
<text x="76.10" y="92" class="nv c" textLength="74.64" lengthAdjust="spacingAndGlyphs">ZKSCAN8P1</text>
<text x="76.10" y="108" class="nv c" textLength="74.64" lengthAdjust="spacingAndGlyphs">ZKSCAN8P1</text>
<text x="490.65" y="124" class="s" textLength="123.38" lengthAdjust="spacingAndGlyphs">RefSeq genes from NCBI</text>
<text x="59.94" y="139" class="nv" textLength="92.74" lengthAdjust="spacingAndGlyphs">RefSeq Curated</text>
<text x="444.86" y="155" class="s" textLength="214.69" lengthAdjust="spacingAndGlyphs">Publications: Sequences in Scientific Articles</text>
<text x="86.54" y="170" textLength="65.11" lengthAdjust="spacingAndGlyphs">Sequences</text>
<text x="117.41" y="186" textLength="34.20" lengthAdjust="spacingAndGlyphs">SNPs</text>
<text x="367.23" y="203" class="gr" textLength="148.08" lengthAdjust="spacingAndGlyphs">OMIM Gene Phenotypes </text>
<text x="515.63" y="203" class="gr" textLength="222.38" lengthAdjust="spacingAndGlyphs">- Dark Green Can Be Disease-causing</text>
<text x="73.13" y="217" class="gr" textLength="78.25" lengthAdjust="spacingAndGlyphs">OMIM Genes</text>
<text x="435.44" y="233" class="s" textLength="233.19" lengthAdjust="spacingAndGlyphs">Short Genetic Variants from dbSNP release 155</text>
<text x="25.65" y="248" textLength="126.73" lengthAdjust="spacingAndGlyphs">Common dbSNP(155)</text>
<text x="265.42" y="265" textLength="250.01" lengthAdjust="spacingAndGlyphs">Gene Expression in 54 tissues from GTEx </text>
<text x="515.45" y="265" textLength="70.01" lengthAdjust="spacingAndGlyphs">RNA-seq of </text>
<text x="586.23" y="265" textLength="39.92" lengthAdjust="spacingAndGlyphs">17382 </text>
<text x="625.38" y="265" textLength="53.34" lengthAdjust="spacingAndGlyphs">samples, </text>
<text x="682.23" y="265" textLength="157.01" lengthAdjust="spacingAndGlyphs">948 donors (V8, Aug 2019)</text>
<text x="90.60" y="290" class="c" textLength="60.43" lengthAdjust="spacingAndGlyphs">ZNF192P1</text>
<text x="280.53" y="315" textLength="244.17" lengthAdjust="spacingAndGlyphs">H3K27Ac Mark (Often Found Near Active </text>
<text x="525.53" y="315" textLength="297.47" lengthAdjust="spacingAndGlyphs">Regulatory Elements) on 7 cell lines from ENCODE</text>
<text x="12.54" y="329" textLength="105.06" lengthAdjust="spacingAndGlyphs">Layered H3K27Ac</text>
<text x="405.13" y="361" class="cb" textLength="292.73" lengthAdjust="spacingAndGlyphs">100 vertebrates Basewise Conservation by PhyloP</text>
<text x="115.90" y="360" class="cb c" textLength="28.72" lengthAdjust="spacingAndGlyphs">4.88 </text>
<text x="144.50" y="359" class="cb" textLength="7.61" lengthAdjust="spacingAndGlyphs">_</text>
<text x="12.83" y="385" class="cb" textLength="86.47" lengthAdjust="spacingAndGlyphs">100 Vert. Cons</text>
<text x="118.21" y="410" class="cr c" textLength="27.63" lengthAdjust="spacingAndGlyphs">-4.5 </text>
<text x="144.50" y="409" class="cr" textLength="7.61" lengthAdjust="spacingAndGlyphs">_</text>
<text x="444.52" y="427" class="mz" textLength="215.59" lengthAdjust="spacingAndGlyphs">Multiz Alignments of 100 Vertebrates</text>
<text x="120.85" y="441" class="or" textLength="30.51" lengthAdjust="spacingAndGlyphs">Gaps</text>
<text x="110.75" y="456" class="mz" textLength="41.46" lengthAdjust="spacingAndGlyphs">Human</text>
<text x="107.84" y="471" class="mz" textLength="44.01" lengthAdjust="spacingAndGlyphs">Rhesus</text>
<text x="112.84" y="486" class="gr" textLength="39.08" lengthAdjust="spacingAndGlyphs">Mouse</text>
<text x="128.94" y="501" class="mz" textLength="23.69" lengthAdjust="spacingAndGlyphs">Dog</text>
<text x="100.84" y="516" class="gr" textLength="50.94" lengthAdjust="spacingAndGlyphs">Elephant</text>
<text x="104.01" y="531" class="gr" textLength="48.26" lengthAdjust="spacingAndGlyphs">Chicken</text>
<text x="83.31" y="546" class="mz" textLength="68.96" lengthAdjust="spacingAndGlyphs">X_tropicalis</text>
<text x="97.80" y="561" class="gr" textLength="54.95" lengthAdjust="spacingAndGlyphs">Zebrafish</text>
<text x="440.93" y="577" textLength="223.19" lengthAdjust="spacingAndGlyphs">Repeating Elements by RepeatMasker</text>
<text x="67.64" y="591" textLength="84.06" lengthAdjust="spacingAndGlyphs">RepeatMasker</text>
<text x="176.34" y="61" class="c" textLength="10.13" lengthAdjust="spacingAndGlyphs">G</text>
<text x="233.76" y="61" class="c" textLength="8.68" lengthAdjust="spacingAndGlyphs">A</text>
<text x="290.46" y="61" class="c" textLength="8.68" lengthAdjust="spacingAndGlyphs">A</text>
<text x="347.16" y="61" class="c" textLength="8.68" lengthAdjust="spacingAndGlyphs">A</text>
<text x="403.86" y="61" class="c" textLength="8.68" lengthAdjust="spacingAndGlyphs">A</text>
<text x="460.92" y="61" class="c" textLength="7.95" lengthAdjust="spacingAndGlyphs">T</text>
<text x="516.53" y="61" class="c" textLength="10.13" lengthAdjust="spacingAndGlyphs">G</text>
<text x="573.60" y="61" class="c" textLength="9.4" lengthAdjust="spacingAndGlyphs">C</text>
<text x="630.66" y="61" class="c" textLength="8.68" lengthAdjust="spacingAndGlyphs">A</text>
<text x="687.36" y="61" class="c" textLength="8.68" lengthAdjust="spacingAndGlyphs">A</text>
<text x="744.06" y="61" class="c" textLength="8.68" lengthAdjust="spacingAndGlyphs">A</text>
<text x="801.12" y="61" class="c" textLength="7.95" lengthAdjust="spacingAndGlyphs">T</text>
<text x="857.46" y="61" class="c" textLength="8.68" lengthAdjust="spacingAndGlyphs">A</text>
<text x="914.16" y="61" class="c" textLength="8.68" lengthAdjust="spacingAndGlyphs">A</text>
<text x="176.34" y="456" class="c mz" textLength="10.13" lengthAdjust="spacingAndGlyphs">G</text>
<text x="233.76" y="456" class="c mz" textLength="8.68" lengthAdjust="spacingAndGlyphs">A</text>
<text x="290.46" y="456" class="c mz" textLength="8.68" lengthAdjust="spacingAndGlyphs">A</text>
<text x="347.16" y="456" class="c mz" textLength="8.68" lengthAdjust="spacingAndGlyphs">A</text>
<text x="403.86" y="456" class="c mz" textLength="8.68" lengthAdjust="spacingAndGlyphs">A</text>
<text x="460.92" y="456" class="c mz" textLength="7.95" lengthAdjust="spacingAndGlyphs">T</text>
<text x="516.53" y="456" class="c mz" textLength="10.13" lengthAdjust="spacingAndGlyphs">G</text>
<text x="573.60" y="456" class="c mz" textLength="9.4" lengthAdjust="spacingAndGlyphs">C</text>
<text x="630.66" y="456" class="c mz" textLength="8.68" lengthAdjust="spacingAndGlyphs">A</text>
<text x="687.36" y="456" class="c mz" textLength="8.68" lengthAdjust="spacingAndGlyphs">A</text>
<text x="744.06" y="456" class="c mz" textLength="8.68" lengthAdjust="spacingAndGlyphs">A</text>
<text x="801.12" y="456" class="c mz" textLength="7.95" lengthAdjust="spacingAndGlyphs">T</text>
<text x="857.46" y="456" class="c mz" textLength="8.68" lengthAdjust="spacingAndGlyphs">A</text>
<text x="914.16" y="456" class="c mz" textLength="8.68" lengthAdjust="spacingAndGlyphs">A</text>
<text x="176.34" y="471" class="c mz" textLength="10.13" lengthAdjust="spacingAndGlyphs">G</text>
<text x="233.76" y="471" class="c mz" textLength="8.68" lengthAdjust="spacingAndGlyphs">A</text>
<text x="290.46" y="471" class="c mz" textLength="8.68" lengthAdjust="spacingAndGlyphs">A</text>
<text x="347.16" y="471" class="c mz" textLength="8.68" lengthAdjust="spacingAndGlyphs">A</text>
<text x="404.23" y="471" class="c lt" textLength="7.95" lengthAdjust="spacingAndGlyphs">T</text>
<text x="460.92" y="471" class="c mz" textLength="7.95" lengthAdjust="spacingAndGlyphs">T</text>
<text x="516.53" y="471" class="c mz" textLength="10.13" lengthAdjust="spacingAndGlyphs">G</text>
<text x="573.60" y="471" class="c mz" textLength="9.4" lengthAdjust="spacingAndGlyphs">C</text>
<text x="630.66" y="471" class="c mz" textLength="8.68" lengthAdjust="spacingAndGlyphs">A</text>
<text x="687.36" y="471" class="c mz" textLength="8.68" lengthAdjust="spacingAndGlyphs">A</text>
<text x="744.06" y="471" class="c mz" textLength="8.68" lengthAdjust="spacingAndGlyphs">A</text>
<text x="800.03" y="471" class="c lt" textLength="10.13" lengthAdjust="spacingAndGlyphs">G</text>
<text x="857.46" y="471" class="c mz" textLength="8.68" lengthAdjust="spacingAndGlyphs">A</text>
<text x="914.16" y="471" class="c mz" textLength="8.68" lengthAdjust="spacingAndGlyphs">A</text>
<text x="176.34" y="486" class="c mz" textLength="10.13" lengthAdjust="spacingAndGlyphs">G</text>
<text x="233.04" y="486" class="c lt" textLength="10.13" lengthAdjust="spacingAndGlyphs">G</text>
<text x="289.74" y="486" class="c lt" textLength="10.13" lengthAdjust="spacingAndGlyphs">G</text>
<text x="347.16" y="486" class="c mz" textLength="8.68" lengthAdjust="spacingAndGlyphs">A</text>
<text x="403.86" y="486" class="c mz" textLength="8.68" lengthAdjust="spacingAndGlyphs">A</text>
<text x="459.83" y="486" class="c lt" textLength="10.13" lengthAdjust="spacingAndGlyphs">G</text>
<text x="517.26" y="486" class="c lt" textLength="8.68" lengthAdjust="spacingAndGlyphs">A</text>
<text x="573.60" y="486" class="c mz" textLength="9.4" lengthAdjust="spacingAndGlyphs">C</text>
<text x="630.66" y="486" class="c mz" textLength="8.68" lengthAdjust="spacingAndGlyphs">A</text>
<text x="687.36" y="486" class="c mz" textLength="8.68" lengthAdjust="spacingAndGlyphs">A</text>
<text x="743.33" y="486" class="c lt" textLength="10.13" lengthAdjust="spacingAndGlyphs">G</text>
<text x="801.12" y="486" class="c mz" textLength="7.95" lengthAdjust="spacingAndGlyphs">T</text>
<text x="857.46" y="486" class="c mz" textLength="8.68" lengthAdjust="spacingAndGlyphs">A</text>
<text x="914.16" y="486" class="c mz" textLength="8.68" lengthAdjust="spacingAndGlyphs">A</text>
<text x="177.60" y="502" class="lt" textLength="7.6" lengthAdjust="spacingAndGlyphs">=</text>
<text x="234.30" y="502" class="lt" textLength="7.6" lengthAdjust="spacingAndGlyphs">=</text>
<text x="291.00" y="502" class="lt" textLength="7.6" lengthAdjust="spacingAndGlyphs">=</text>
<text x="347.70" y="502" class="lt" textLength="7.6" lengthAdjust="spacingAndGlyphs">=</text>
<text x="404.40" y="502" class="lt" textLength="7.6" lengthAdjust="spacingAndGlyphs">=</text>
<text x="461.10" y="502" class="lt" textLength="7.6" lengthAdjust="spacingAndGlyphs">=</text>
<text x="517.80" y="502" class="lt" textLength="7.6" lengthAdjust="spacingAndGlyphs">=</text>
<text x="574.50" y="502" class="lt" textLength="7.6" lengthAdjust="spacingAndGlyphs">=</text>
<text x="631.20" y="502" class="lt" textLength="7.6" lengthAdjust="spacingAndGlyphs">=</text>
<text x="687.90" y="502" class="lt" textLength="7.6" lengthAdjust="spacingAndGlyphs">=</text>
<text x="744.60" y="502" class="lt" textLength="7.6" lengthAdjust="spacingAndGlyphs">=</text>
<text x="801.30" y="502" class="lt" textLength="7.6" lengthAdjust="spacingAndGlyphs">=</text>
<text x="858.00" y="502" class="lt" textLength="7.6" lengthAdjust="spacingAndGlyphs">=</text>
<text x="914.70" y="502" class="lt" textLength="7.6" lengthAdjust="spacingAndGlyphs">=</text>
<text x="176.34" y="516" class="c mz" textLength="10.13" lengthAdjust="spacingAndGlyphs">G</text>
<text x="235.95" y="516" class="lt" textLength="4.3" lengthAdjust="spacingAndGlyphs">-</text>
<text x="290.46" y="516" class="c mz" textLength="8.68" lengthAdjust="spacingAndGlyphs">A</text>
<text x="347.16" y="516" class="c mz" textLength="8.68" lengthAdjust="spacingAndGlyphs">A</text>
<text x="403.50" y="516" class="c lt" textLength="9.4" lengthAdjust="spacingAndGlyphs">C</text>
<text x="460.92" y="516" class="c mz" textLength="7.95" lengthAdjust="spacingAndGlyphs">T</text>
<text x="516.53" y="516" class="c mz" textLength="10.13" lengthAdjust="spacingAndGlyphs">G</text>
<text x="573.60" y="516" class="c mz" textLength="9.4" lengthAdjust="spacingAndGlyphs">C</text>
<text x="630.66" y="516" class="c mz" textLength="8.68" lengthAdjust="spacingAndGlyphs">A</text>
<text x="687.73" y="516" class="c lt" textLength="7.95" lengthAdjust="spacingAndGlyphs">T</text>
<text x="744.06" y="516" class="c mz" textLength="8.68" lengthAdjust="spacingAndGlyphs">A</text>
<text x="800.40" y="516" class="c lt" textLength="9.4" lengthAdjust="spacingAndGlyphs">C</text>
<text x="857.46" y="516" class="c mz" textLength="8.68" lengthAdjust="spacingAndGlyphs">A</text>
<text x="914.16" y="516" class="c mz" textLength="8.68" lengthAdjust="spacingAndGlyphs">A</text>
<text x="177.60" y="532" class="lt" textLength="7.6" lengthAdjust="spacingAndGlyphs">=</text>
<text x="234.30" y="532" class="lt" textLength="7.6" lengthAdjust="spacingAndGlyphs">=</text>
<text x="291.00" y="532" class="lt" textLength="7.6" lengthAdjust="spacingAndGlyphs">=</text>
<text x="347.70" y="532" class="lt" textLength="7.6" lengthAdjust="spacingAndGlyphs">=</text>
<text x="404.40" y="532" class="lt" textLength="7.6" lengthAdjust="spacingAndGlyphs">=</text>
<text x="461.10" y="532" class="lt" textLength="7.6" lengthAdjust="spacingAndGlyphs">=</text>
<text x="517.80" y="532" class="lt" textLength="7.6" lengthAdjust="spacingAndGlyphs">=</text>
<text x="574.50" y="532" class="lt" textLength="7.6" lengthAdjust="spacingAndGlyphs">=</text>
<text x="631.20" y="532" class="lt" textLength="7.6" lengthAdjust="spacingAndGlyphs">=</text>
<text x="687.90" y="532" class="lt" textLength="7.6" lengthAdjust="spacingAndGlyphs">=</text>
<text x="744.60" y="532" class="lt" textLength="7.6" lengthAdjust="spacingAndGlyphs">=</text>
<text x="801.30" y="532" class="lt" textLength="7.6" lengthAdjust="spacingAndGlyphs">=</text>
<text x="858.00" y="532" class="lt" textLength="7.6" lengthAdjust="spacingAndGlyphs">=</text>
<text x="914.70" y="532" class="lt" textLength="7.6" lengthAdjust="spacingAndGlyphs">=</text>
<text x="177.60" y="547" class="lt" textLength="7.6" lengthAdjust="spacingAndGlyphs">=</text>
<text x="234.30" y="547" class="lt" textLength="7.6" lengthAdjust="spacingAndGlyphs">=</text>
<text x="291.00" y="547" class="lt" textLength="7.6" lengthAdjust="spacingAndGlyphs">=</text>
<text x="347.70" y="547" class="lt" textLength="7.6" lengthAdjust="spacingAndGlyphs">=</text>
<text x="404.40" y="547" class="lt" textLength="7.6" lengthAdjust="spacingAndGlyphs">=</text>
<text x="461.10" y="547" class="lt" textLength="7.6" lengthAdjust="spacingAndGlyphs">=</text>
<text x="517.80" y="547" class="lt" textLength="7.6" lengthAdjust="spacingAndGlyphs">=</text>
<text x="574.50" y="547" class="lt" textLength="7.6" lengthAdjust="spacingAndGlyphs">=</text>
<text x="631.20" y="547" class="lt" textLength="7.6" lengthAdjust="spacingAndGlyphs">=</text>
<text x="687.90" y="547" class="lt" textLength="7.6" lengthAdjust="spacingAndGlyphs">=</text>
<text x="744.60" y="547" class="lt" textLength="7.6" lengthAdjust="spacingAndGlyphs">=</text>
<text x="801.30" y="547" class="lt" textLength="7.6" lengthAdjust="spacingAndGlyphs">=</text>
<text x="858.00" y="547" class="lt" textLength="7.6" lengthAdjust="spacingAndGlyphs">=</text>
<text x="914.70" y="547" class="lt" textLength="7.6" lengthAdjust="spacingAndGlyphs">=</text>
<text x="177.60" y="562" class="lt" textLength="7.6" lengthAdjust="spacingAndGlyphs">=</text>
<text x="234.30" y="562" class="lt" textLength="7.6" lengthAdjust="spacingAndGlyphs">=</text>
<text x="291.00" y="562" class="lt" textLength="7.6" lengthAdjust="spacingAndGlyphs">=</text>
<text x="347.70" y="562" class="lt" textLength="7.6" lengthAdjust="spacingAndGlyphs">=</text>
<text x="404.40" y="562" class="lt" textLength="7.6" lengthAdjust="spacingAndGlyphs">=</text>
<text x="461.10" y="562" class="lt" textLength="7.6" lengthAdjust="spacingAndGlyphs">=</text>
<text x="517.80" y="562" class="lt" textLength="7.6" lengthAdjust="spacingAndGlyphs">=</text>
<text x="574.50" y="562" class="lt" textLength="7.6" lengthAdjust="spacingAndGlyphs">=</text>
<text x="631.20" y="562" class="lt" textLength="7.6" lengthAdjust="spacingAndGlyphs">=</text>
<text x="687.90" y="562" class="lt" textLength="7.6" lengthAdjust="spacingAndGlyphs">=</text>
<text x="744.60" y="562" class="lt" textLength="7.6" lengthAdjust="spacingAndGlyphs">=</text>
<text x="801.30" y="562" class="lt" textLength="7.6" lengthAdjust="spacingAndGlyphs">=</text>
<text x="858.00" y="562" class="lt" textLength="7.6" lengthAdjust="spacingAndGlyphs">=</text>
<text x="914.70" y="562" class="lt" textLength="7.6" lengthAdjust="spacingAndGlyphs">=</text>
</svg></body></html>
